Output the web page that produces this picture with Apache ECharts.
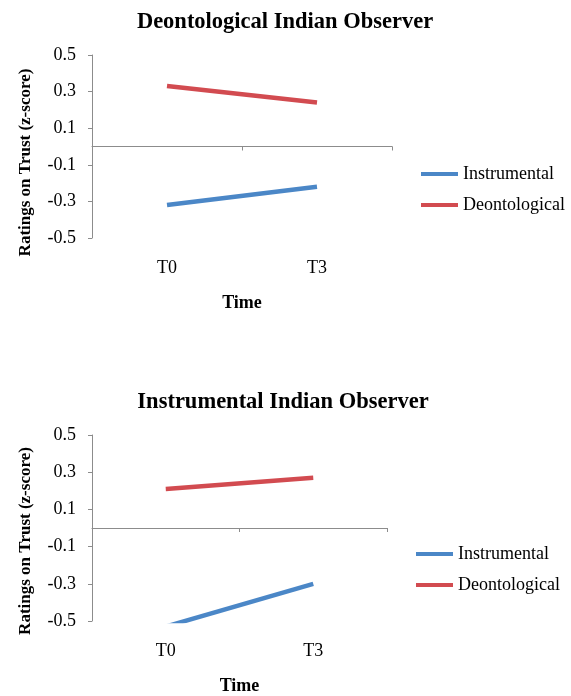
<!DOCTYPE html>
<html>
<head>
<meta charset="utf-8">
<script src="https://cdn.jsdelivr.net/npm/echarts@6/dist/echarts.min.js"></script>
<style>
html,body{margin:0;padding:0;background:#fff;}
#chart{width:571px;height:696px;}
</style>
</head>
<body>
<div id="chart"></div>
<script>
// ---- data ----
const categories = ['T0', 'T3'];
const seriesNames = ['Instrumental', 'Deontological'];
const panelTitles = ['Deontological Indian Observer', 'Instrumental Indian Observer'];
// Panel 1: Deontological Indian Observer
const deonObsInstrumental = [-0.32, -0.22];
const deonObsDeontological = [0.33, 0.24];
// Panel 2: Instrumental Indian Observer
const instrObsInstrumental = [-0.53, -0.30];
const instrObsDeontological = [0.21, 0.27];
const yMin = -0.5, yMax = 0.5, yStep = 0.2;
const xAxisTitle = 'Time';
const yAxisTitle = 'Ratings on Trust (z-score)';

// ---- layout / style ----
const FONT = 'Liberation Serif';
const colors = ['#4B87C7', '#D24B50'];
const axisGray = '#8c8c8c';
const panels = [
  { data: [deonObsInstrumental, deonObsDeontological], grid: {left: 92, top: 55, width: 300, height: 183}, titleLeft: 285, titleTop: 11, legendLeft: 421, legendTop: 165, namePad: 32 },
  { data: [instrObsInstrumental, instrObsDeontological], grid: {left: 92, top: 435, width: 295, height: 186}, titleLeft: 283, titleTop: 391, legendLeft: 416, legendTop: 545, namePad: 26 }
];

const option = {
  animation: false,
  backgroundColor: '#ffffff',
  title: [], grid: [], xAxis: [], yAxis: [], legend: [], series: []
};

panels.forEach((p, g) => {
  option.title.push({
    text: panelTitles[g], left: p.titleLeft, top: p.titleTop, textAlign: 'center', padding: 0,
    textStyle: {fontFamily: FONT, fontWeight: 'bold', fontSize: 22.5, color: '#000'}
  });
  option.grid.push(Object.assign({containLabel: false}, p.grid));
  // axis line at zero
  option.xAxis.push({
    type: 'category', gridIndex: g, data: categories, position: 'bottom',
    boundaryGap: true,
    axisLine: {show: true, onZero: true, lineStyle: {color: axisGray, width: 1}},
    axisTick: {show: true, alignWithLabel: false, length: 4, lineStyle: {color: axisGray}},
    axisLabel: {show: false}, splitLine: {show: false}
  });
  // labels at bottom
  option.xAxis.push({
    type: 'category', gridIndex: g, data: categories, position: 'bottom',
    boundaryGap: true,
    axisLine: {show: false, onZero: false}, axisTick: {show: false}, splitLine: {show: false},
    axisLabel: {show: true, margin: 21, fontFamily: FONT, fontSize: 18, color: '#000'},
    name: xAxisTitle, nameLocation: 'middle', nameGap: 56,
    nameTextStyle: {fontFamily: FONT, fontWeight: 'bold', fontSize: 18, color: '#000'}
  });
  option.yAxis.push({
    type: 'value', gridIndex: g, min: yMin, max: yMax, interval: yStep,
    axisLine: {show: true, lineStyle: {color: axisGray, width: 1}},
    axisTick: {show: true, length: 4, lineStyle: {color: axisGray}},
    splitLine: {show: false},
    axisLabel: {margin: 16, fontFamily: FONT, fontSize: 18, color: '#000',
      formatter: v => (Math.round(v * 10) / 10).toFixed(1)},
    name: yAxisTitle, nameLocation: 'middle', nameGap: 58, nameRotate: 90,
    nameTextStyle: {fontFamily: FONT, fontWeight: 'bold', fontSize: 17, color: '#000', padding: [0, p.namePad, 0, 0]}
  });
  option.legend.push({
    orient: 'vertical', left: p.legendLeft, top: p.legendTop, padding: 0,
    data: seriesNames.map(n => ({name: n, icon: 'rect'})),
    itemWidth: 37, itemHeight: 4, itemGap: 13,
    textStyle: {fontFamily: FONT, fontSize: 18, color: '#000', lineHeight: 18},
    selectedMode: false
  });
  seriesNames.forEach((name, i) => {
    option.series.push({
      type: 'line', name: name, xAxisIndex: 2 * g, yAxisIndex: g,
      data: p.data[i], symbol: 'none', clip: true,
      lineStyle: {color: colors[i], width: 4.5},
      itemStyle: {color: colors[i]}
    });
  });
});

const chart = echarts.init(document.getElementById('chart'), null, {renderer: 'canvas'});
chart.setOption(option);
</script>
</body>
</html>
